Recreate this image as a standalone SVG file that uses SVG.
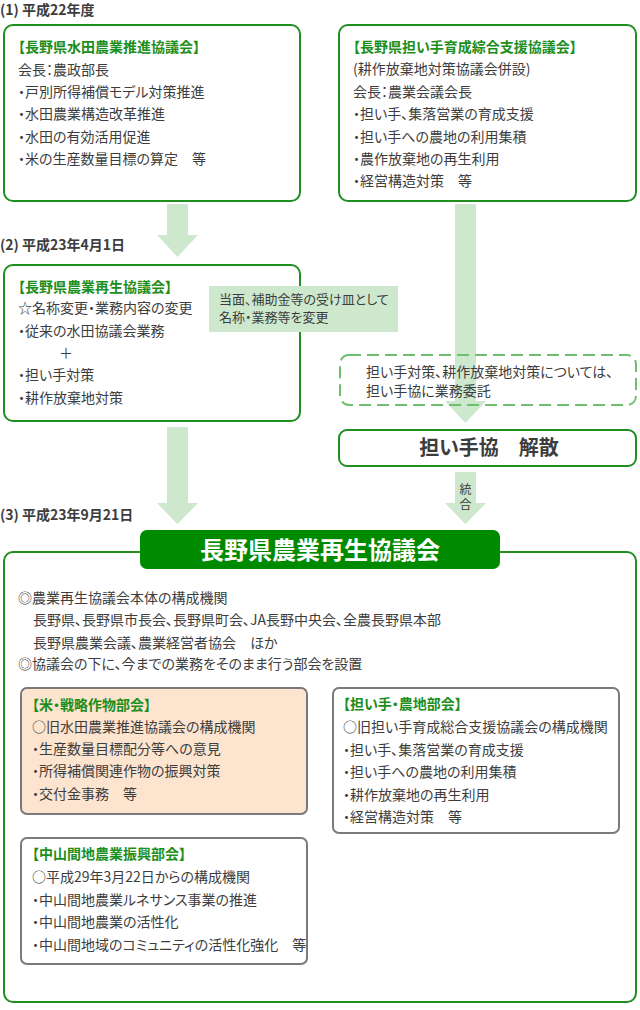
<svg xmlns="http://www.w3.org/2000/svg" width="640" height="1010" viewBox="0 0 640 1010">
<style>
text{font-family:"Noto Sans CJK JP","Noto Sans",sans-serif;font-size:14px;fill:#3d3d3d;font-feature-settings:"palt"}
.h{font-weight:bold}
.t{fill:#1c8e1c;font-weight:bold}
.box{fill:#fff;stroke:#1f8f1f;stroke-width:2}
.sub{fill:#fff;stroke:#7a7a7a;stroke-width:2}
.arr{fill:#cde8cd}
.sm{font-size:13px}
.xs{font-size:12px}
</style>
<rect width="640" height="1010" fill="#fff"/>
<g id="connectors">
<polygon class="arr" points="167,204 188,204 188,235 198,235 177.5,257 157,235 167,235"/>
<polygon class="arr" points="455,204 476,204 476,401 486,401 465.5,423 445,401 455,401"/>
<polygon class="arr" points="167,427 188,427 188,503 198,503 177.5,524 157,503 167,503"/>
<polygon class="arr" points="455,472 476,472 476,503 486,503 465.5,524 445,503 455,503"/>
<text class="xs" x="465.5" y="494" text-anchor="middle">統</text>
<text class="xs" x="465.5" y="509" text-anchor="middle">合</text>
</g>
<g id="headings">
<text class="h" x="0" y="15">(1) 平成22年度</text>
<text class="h" x="0" y="250">(2) 平成23年4月1日</text>
<text class="h" x="0" y="520">(3) 平成23年9月21日</text>
</g>
<g id="node-suiden">
<rect class="box" x="4" y="25" width="296" height="176" rx="9"/>
<text class="t" x="18" y="52">【長野県水田農業推進協議会】</text>
<text x="18" y="75">会長：農政部長</text>
<text x="18" y="97">・戸別所得補償モデル対策推進</text>
<text x="18" y="119">・水田農業構造改革推進</text>
<text x="18" y="142">・水田の有効活用促進</text>
<text x="18" y="164">・米の生産数量目標の算定　等</text>
</g>
<g id="node-ninaite">
<rect class="box" x="339" y="25" width="297" height="176" rx="9"/>
<text class="t" x="353" y="52">【長野県担い手育成綜合支援協議会】</text>
<text x="353" y="74">(耕作放棄地対策協議会併設)</text>
<text x="353" y="97">会長：農業会議会長</text>
<text x="353" y="119">・担い手、集落営業の育成支援</text>
<text x="353" y="142">・担い手への農地の利用集積</text>
<text x="353" y="164">・農作放棄地の再生利用</text>
<text x="353" y="186">・経営構造対策　等</text>
</g>
<g id="node-saisei1">
<rect class="box" x="4" y="265" width="296" height="156" rx="9"/>
<text class="t" x="18" y="292">【長野県農業再生協議会】</text>
<text x="18" y="313">☆名称変更・業務内容の変更</text>
<text x="18" y="336">・従来の水田協議会業務</text>
<text x="66" y="358" text-anchor="middle">＋</text>
<text x="18" y="380">・担い手対策</text>
<text x="18" y="403">・耕作放棄地対策</text>
</g>
<g id="node-callout">
<rect x="209" y="286" width="189" height="46" fill="#cde8cd"/>
<text class="sm" x="219" y="304">当面、補助金等の受け皿として</text>
<text class="sm" x="219" y="322">名称・業務等を変更</text>
</g>
<g id="node-itaku">
<rect x="340" y="355" width="296" height="50" rx="9" fill="none" stroke="#6dbf6d" stroke-width="2" stroke-dasharray="12,6"/>
<text x="366" y="377">担い手対策、耕作放棄地対策については、</text>
<text x="366" y="396">担い手協に業務委託</text>
</g>
<g id="node-kaisan">
<rect class="box" x="339" y="430" width="297" height="36" rx="8"/>
<text x="489" y="455" text-anchor="middle" style="font-size:20px;font-weight:bold;fill:#3d3d3d">担い手協　解散</text>
</g>
<g id="node-main">
<rect class="box" x="4" y="552" width="632" height="450" rx="9"/>
<rect x="140" y="530" width="360" height="39" rx="7" fill="#008a00"/>
<text x="320" y="559" text-anchor="middle" style="font-size:24px;font-weight:bold;fill:#fff">長野県農業再生協議会</text>
<text x="18" y="603">◎農業再生協議会本体の構成機関</text>
<text x="33" y="625">長野県、長野県市長会、長野県町会、JA長野中央会、全農長野県本部</text>
<text x="33" y="648">長野県農業会議、農業経営者協会　ほか</text>
<text x="18" y="669">◎協議会の下に、今までの業務をそのまま行う部会を設置</text>
</g>
<g id="node-kome">
<rect class="sub" x="21" y="688" width="286" height="126" rx="6" style="fill:#fde4cf"/>
<text class="t" x="32" y="710">【米・戦略作物部会】</text>
<text x="32" y="732">○旧水田農業推進協議会の構成機関</text>
<text x="32" y="754">・生産数量目標配分等への意見</text>
<text x="32" y="776">・所得補償関連作物の振興対策</text>
<text x="32" y="799">・交付金事務　等</text>
</g>
<g id="node-nochi">
<rect class="sub" x="333" y="688" width="286" height="145" rx="6"/>
<text class="t" x="343" y="709">【担い手・農地部会】</text>
<text x="343" y="732">○旧担い手育成総合支援協議会の構成機関</text>
<text x="343" y="755">・担い手、集落営業の育成支援</text>
<text x="343" y="777">・担い手への農地の利用集積</text>
<text x="343" y="800">・耕作放棄地の再生利用</text>
<text x="343" y="822">・経営構造対策　等</text>
</g>
<g id="node-chusankan">
<rect class="sub" x="21" y="838" width="286" height="126" rx="6"/>
<text class="t" x="32" y="859">【中山間地農業振興部会】</text>
<text x="32" y="882">○平成29年3月22日からの構成機関</text>
<text x="32" y="905">・中山間地農業ルネサンス事業の推進</text>
<text x="32" y="927">・中山間地農業の活性化</text>
<text x="32" y="950">・中山間地域のコミュニティの活性化強化　等</text>
</g>
</svg>
